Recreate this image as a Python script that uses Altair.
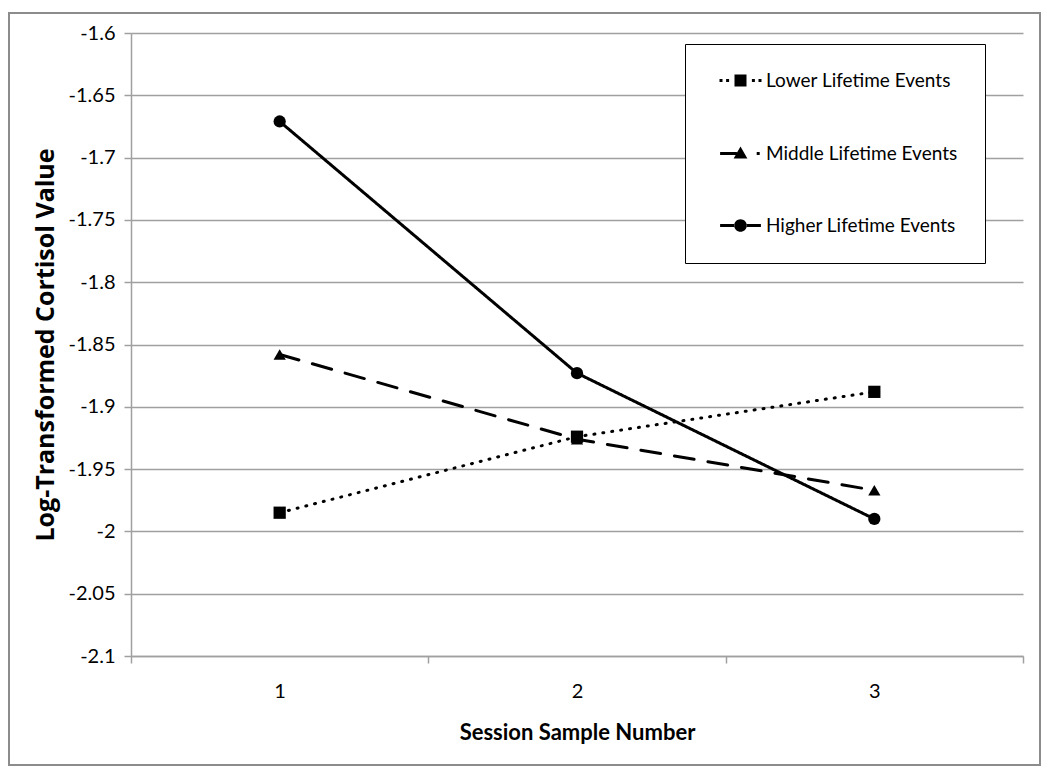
import altair as alt
import pandas as pd

sessions = [1, 2, 3]
groups = ["Lower Lifetime Events", "Middle Lifetime Events", "Higher Lifetime Events"]
lower = [-1.985, -1.924, -1.888]
middle = [-1.858, -1.926, -1.967]
higher = [-1.671, -1.873, -1.990]
y_ticks = [-2.1, -2.05, -2.0, -1.95, -1.9, -1.85, -1.8, -1.75, -1.7, -1.65, -1.6]

rows = []
for g, vals in zip(groups, [lower, middle, higher]):
    for s, v in zip(sessions, vals):
        rows.append({"session": s, "group": g, "value": v})
df = pd.DataFrame(rows)

FONT = "Lato"
GRID = "#a0a0a0"
dashes = [[1, 8], [20, 14], [1, 0]]
shapes = ["square", "triangle-up", "circle"]
DOT = "h0.5v0.5h-0.5Z"
legend_paths = [
    "M-3.5,-0.25" + DOT + "M-2.4,-0.25" + DOT + "M-1,-1H1V1H-1Z"
    + "M1.9,-0.25" + DOT + "M3.0,-0.25" + DOT,
    "M-3.4,-0.25H-0.6V0.25H-3.4Z M0,-1.15L1.15,0.85H-1.15Z M2.7,-0.25" + DOT,
    "M-3.4,-0.25H-1V0.25H-3.4Z M1,-0.25H3.4V0.25H1Z"
    + "M-1.05,0A1.05,1.05 0 1,0 1.05,0A1.05,1.05 0 1,0 -1.05,0Z",
]

x_enc = alt.X(
    "session:O",
    bandPosition=0.5,
    scale=alt.Scale(type="band", paddingInner=0, paddingOuter=0),
    axis=alt.Axis(
        title="Session Sample Number", labelAngle=0, tickBand="extent",
        tickSize=7, labelPadding=18, titlePadding=21, grid=False,
        domainColor=GRID, tickColor=GRID, domainWidth=1.5, tickWidth=1.5,
        titleFontSize=22,
    ),
)
y_enc = alt.Y(
    "value:Q",
    scale=alt.Scale(domain=[-2.1, -1.6], nice=False, zero=False),
    axis=alt.Axis(
        values=y_ticks, labelExpr="'' + datum.value", title="Log-Transformed Cortisol Value",
        tickSize=7, labelPadding=9, titlePadding=10, grid=True,
        gridColor=GRID, gridWidth=1.5, domainColor=GRID, tickColor=GRID,
        domainWidth=1.5, tickWidth=1.5, titleFontSize=25, titleFont="Open Sans",
    ),
)

base = alt.Chart(df)

line_layers = [
    base.transform_filter(alt.datum.group == g).mark_line(
        color="black", strokeWidth=3, strokeCap="round", strokeDash=d
    ).encode(x=x_enc, y=y_enc)
    for g, d in zip(groups, dashes)
]

point_layers = [
    base.transform_filter(alt.datum.group == g).mark_point(
        filled=True, color="black", size=150, opacity=1, shape=s
    ).encode(x=x_enc, y=y_enc)
    for g, s in zip(groups, shapes)
]

leg = alt.Legend(
    title=None, orient="none", legendX=554, legendY=11,
    strokeColor="black", fillColor="white", padding=27, rowPadding=52,
    symbolSize=144, symbolFillColor="black", symbolOpacity=1,
    symbolOffset=19, labelOffset=16, labelFont=FONT, labelFontSize=19, labelColor="black",
    labelLimit=400,
    labelExpr="datum.label + '" + "\u00a0" * 16 + "'",
)

legend_layer = base.mark_point(filled=True, color="black", opacity=0, size=144).encode(
    x=x_enc, y=y_enc,
    shape=alt.Shape("group:N", scale=alt.Scale(domain=groups, range=legend_paths), legend=leg),
)

frame = alt.Chart(pd.DataFrame({"a": [0]})).mark_rect(
    fill="white", fillOpacity=0, stroke="#8c8c8c", strokeWidth=2
).encode(
    x=alt.value(-122), x2=alt.value(909), y=alt.value(-20), y2=alt.value(732)
)

chart = alt.layer(frame, *line_layers, *point_layers, legend_layer).properties(
    width=892, height=623,
    autosize=alt.AutoSizeParams(type="none"),
    padding={"left": 123, "top": 25, "right": 19, "bottom": 110},
).configure_view(stroke=None).configure_axis(
    labelFont=FONT, labelFontSize=20, labelColor="black",
    titleFont=FONT, titleFontSize=20, titleFontWeight="bold", titleColor="black",
)

chart.save("out.html", embed_options={"renderer": "svg", "actions": False})
